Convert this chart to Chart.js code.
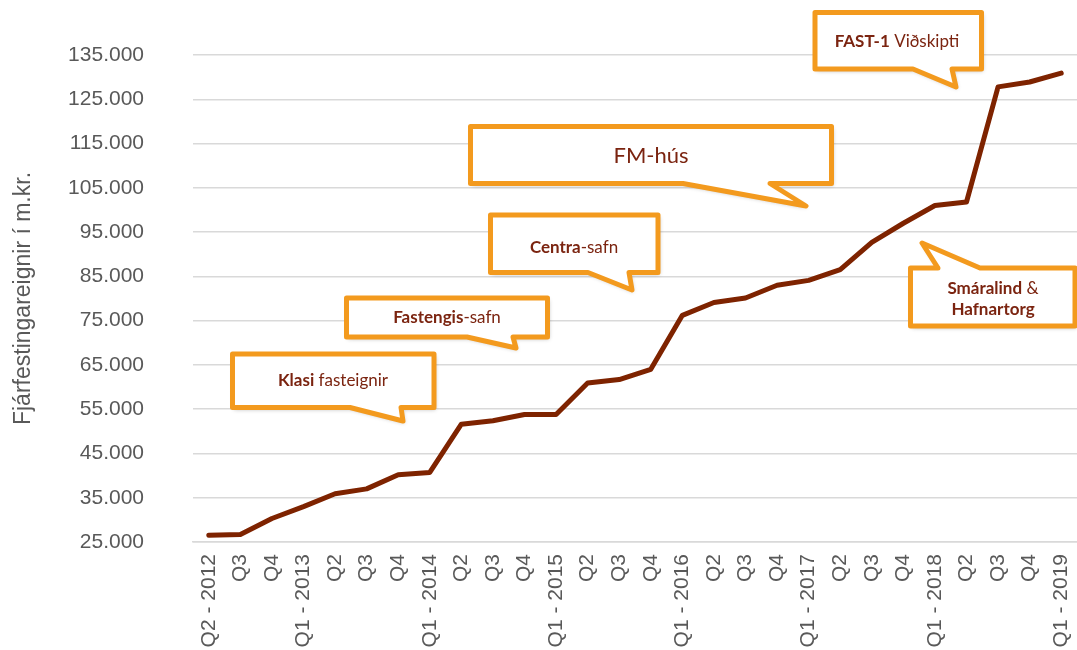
<!DOCTYPE html>
<html>
<head>
<meta charset="utf-8">
<script src="https://cdn.jsdelivr.net/npm/chart.js@4/dist/chart.umd.min.js"></script>
<style>
	html, body { margin: 0; padding: 0; background: #fff; }
	#wrap { width: 1077px; height: 650px; position: relative; }
</style>
</head>
<body>
<div id="wrap"><canvas id="chart"></canvas></div>
<script>
(() => {
	'use strict'

	// Quarters, Q2 2012 - Q1 2019
	const quarters = [
		'Q2 - 2012', 'Q3', 'Q4',
		'Q1 - 2013', 'Q2', 'Q3', 'Q4',
		'Q1 - 2014', 'Q2', 'Q3', 'Q4',
		'Q1 - 2015', 'Q2', 'Q3', 'Q4',
		'Q1 - 2016', 'Q2', 'Q3', 'Q4',
		'Q1 - 2017', 'Q2', 'Q3', 'Q4',
		'Q1 - 2018', 'Q2', 'Q3', 'Q4',
		'Q1 - 2019'
	];

	// Investment properties, m.kr.
	const investmentProps = [
		26500, 26700, 30300,
		33000, 35900, 37000, 40200,
		40700, 51600, 52400, 53800,
		53800, 60900, 61700, 64000,
		76200, 79100, 80100, 83000,
		84100, 86500, 92700, 97000,
		101000, 101800, 127800, 128900,
		130900
	];

	const yMin = 25000;
	const yMax = 135000;
	const yStep = 10000;
	const yTitle = 'Fjárfestingareignir í m.kr.';

	const lineColor = '#7E2300';
	const textGray = '#595959';
	const gridColor = '#D9D9D9';
	const calloutBorder = '#F39A1E';
	const calloutText = '#7B2410';
	const calloutFont = 'Lato, "Open Sans", sans-serif';
	const axisFont = '"Liberation Sans", Arial, sans-serif';

	// Callouts (acquisitions), text runs are [text, bold]
	const callouts = [
		{ box: [232.5, 354, 434, 407.5], side: 'bottom', tail: [[350, 407.5], [403, 421], [401, 407.5]],
			size: 17, lines: [[['Klasi', true], [' fasteignir', false]]], center: [333, 381] },
		{ box: [346.5, 298, 547.5, 337], side: 'bottom', tail: [[467, 337], [516, 348], [513, 337]],
			size: 17, lines: [[['Fastengis', true], ['-safn', false]]], center: [447, 318] },
		{ box: [490.5, 215, 658, 272.5], side: 'bottom', tail: [[588, 272.5], [632, 290], [629, 272.5]],
			size: 17, lines: [[['Centra', true], ['-safn', false]]], center: [574, 248] },
		{ box: [470.5, 126.5, 831.5, 183.5], side: 'bottom', tail: [[683, 183.5], [806, 206], [770, 183.5]],
			size: 22, lines: [[['FM-hús', false]]], center: [651, 156] },
		{ box: [815, 12.5, 981.5, 69], side: 'bottom', tail: [[913, 69], [956, 87], [952, 69]],
			size: 17, lines: [[['FAST-1', true], [' Viðskipti', false]]], center: [897, 42] },
		{ box: [910.5, 268, 1075, 326], side: 'top', tail: [[938, 268], [922, 243], [980, 268]],
			size: 17, lines: [[['Smáralind', true], [' &', false]], [['Hafnartorg', true]]], center: [993, 299] }
	];

	function formatThousands(v) {
		return String(v).replace(/\B(?=(\d{3})+(?!\d))/g, '.');
	}

	function calloutPath(ctx, c) {
		const [x1, y1, x2, y2] = c.box;
		const [a, tip, b] = c.tail;
		ctx.beginPath();
		if (c.side === 'bottom') {
			ctx.moveTo(x1, y1);
			ctx.lineTo(x2, y1);
			ctx.lineTo(x2, y2);
			ctx.lineTo(b[0], b[1]);
			ctx.lineTo(tip[0], tip[1]);
			ctx.lineTo(a[0], a[1]);
			ctx.lineTo(x1, y2);
		} else {
			ctx.moveTo(x1, y1);
			ctx.lineTo(a[0], a[1]);
			ctx.lineTo(tip[0], tip[1]);
			ctx.lineTo(b[0], b[1]);
			ctx.lineTo(x2, y1);
			ctx.lineTo(x2, y2);
			ctx.lineTo(x1, y2);
		}
		ctx.closePath();
	}

	function runFont(bold, size) {
		return (bold ? 'bold ' : '') + size + 'px ' + calloutFont;
	}

	const calloutPlugin = {
		id: 'callouts',
		afterDatasetsDraw(chart) {
			const ctx = chart.ctx;
			callouts.forEach(c => {
				ctx.save();
				calloutPath(ctx, c);
				ctx.shadowColor = 'rgba(0,0,0,0.28)';
				ctx.shadowBlur = 4;
				ctx.shadowOffsetX = 1.5;
				ctx.shadowOffsetY = 2;
				ctx.fillStyle = '#fff';
				ctx.fill();
				ctx.shadowColor = 'transparent';
				ctx.lineWidth = 5;
				ctx.lineJoin = 'round';
				ctx.strokeStyle = calloutBorder;
				ctx.stroke();

				// text, each line centred on the callout centre
				const lh = c.size * 1.25;
				const top = c.center[1] - (c.lines.length - 1) * lh / 2;
				ctx.fillStyle = calloutText;
				ctx.textBaseline = 'middle';
				ctx.textAlign = 'left';
				c.lines.forEach((runs, i) => {
					let w = 0;
					runs.forEach(r => { ctx.font = runFont(r[1], c.size); w += ctx.measureText(r[0]).width; });
					let x = c.center[0] - w / 2;
					runs.forEach(r => {
						ctx.font = runFont(r[1], c.size);
						ctx.fillText(r[0], x, top + i * lh);
						x += ctx.measureText(r[0]).width;
					});
				});
				ctx.restore();
			});
		}
	};

	const chartEl = document.getElementById('chart');
	if (chartEl) {
		const dataChart = {
			labels: quarters,
			datasets: [{
				label: yTitle,
				data: investmentProps,
				borderColor: lineColor,
				backgroundColor: lineColor,
				borderWidth: 5,
				borderJoinStyle: 'round',
				borderCapStyle: 'round',
				pointRadius: 0,
				tension: 0,
				fill: false
			}]
		};

		const configChart = {
			type: 'line',
			data: dataChart,
			plugins: [calloutPlugin],
			options: {
				responsive: true,
				maintainAspectRatio: false,
				animation: false,
				layout: {
					padding: { top: 55, right: 0, bottom: 0, left: 0 }
				},
				plugins: {
					legend: { display: false },
					title: { display: false },
					tooltip: { enabled: false }
				},
				scales: {
					x: {
						offset: true,
						grid: { display: false, drawTicks: false },
						border: { display: true, color: gridColor, width: 1.5 },
						ticks: {
							autoSkip: false,
							minRotation: 90,
							maxRotation: 90,
							padding: 12,
							color: textGray,
							font: { family: axisFont, size: 21 }
						},
						afterFit(scale) {
							scale.height = 108;
							scale.paddingLeft = 0;
							scale.paddingRight = 0;
						}
					},
					y: {
						min: yMin,
						max: yMax,
						grid: { color: gridColor, lineWidth: 1.5, drawTicks: false },
						border: { display: false },
						ticks: {
							stepSize: yStep,
							padding: 49,
							color: textGray,
							font: { family: axisFont, size: 21 },
							callback: (v) => formatThousands(v)
						},
						title: {
							display: true,
							text: yTitle,
							color: textGray,
							padding: { top: 10, bottom: 0 },
							font: { family: axisFont, size: 23, weight: 'normal' }
						},
						afterFit(scale) {
							scale.width = 193;
							scale.paddingTop = 0;
							scale.paddingBottom = 0;
						}
					}
				}
			}
		};

		new Chart(chartEl, configChart);
	}
})()
</script>
</body>
</html>
